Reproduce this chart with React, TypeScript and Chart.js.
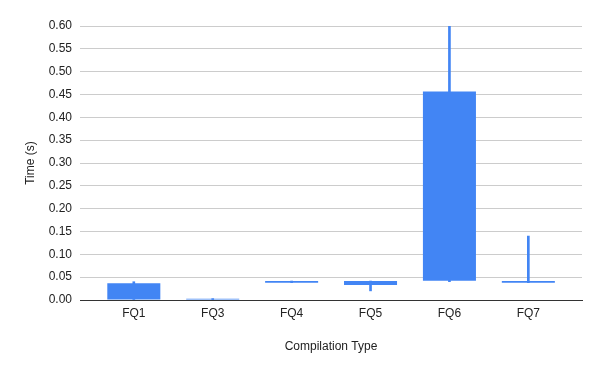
import React, { useEffect, useRef } from "react";
import { Chart, registerables } from "chart.js";

Chart.register(...registerables);

const categories = ["FQ1", "FQ3", "FQ4", "FQ5", "FQ6", "FQ7"];
const lowValues = [0.0, 0.001, 0.038, 0.02, 0.04, 0.038];
const openValues = [0.0, 0.001, 0.038, 0.033, 0.042, 0.038];
const closeValues = [0.0365, 0.003, 0.0415, 0.0415, 0.4566, 0.0415];
const highValues = [0.04, 0.003, 0.0415, 0.0415, 0.6, 0.14];
const yTicks = [0, 0.05, 0.1, 0.15, 0.2, 0.25, 0.3, 0.35, 0.4, 0.45, 0.5, 0.55, 0.6];

const BLUE = "#4285F4";
const FONT = "'Liberation Sans', Arial, sans-serif";

export default function App() {
  const ref = useRef<HTMLCanvasElement | null>(null);

  useEffect(() => {
    document.body.style.margin = "0";
    if (!ref.current) return;
    const chart = new Chart(ref.current, {
      type: "bar",
      data: {
        datasets: [
          {
            label: "wick",
            data: categories.map((_, i) => ({ x: i, y: [lowValues[i], highValues[i]] })),
            backgroundColor: BLUE,
            barThickness: 2,
            grouped: false,
            order: 2,
          } as any,
          {
            label: "box",
            data: categories.map((_, i) => ({ x: i, y: [openValues[i], closeValues[i]] })),
            backgroundColor: BLUE,
            borderWidth: 0,
            categoryPercentage: 1,
            barPercentage: 0.672,
            grouped: false,
            order: 1,
          } as any,
        ],
      },
      options: {
        animation: false,
        responsive: false,
        maintainAspectRatio: false,
        layout: { padding: { top: 26, right: 18, left: 0, bottom: 0 } },
        plugins: { legend: { display: false }, tooltip: { enabled: false } },
        scales: {
          x: {
            type: "linear",
            min: -0.682,
            max: 5.68,
            offset: false,
            afterBuildTicks: (s: any) => {
              s.ticks = categories.map((_, i) => ({ value: i }));
            },
            grid: { display: false, drawTicks: false },
            border: { display: true, color: "#333333", width: 1 },
            ticks: {
              color: "#222222",
              font: { family: FONT, size: 12 },
              padding: 6,
              autoSkip: false,
              maxRotation: 0,
              callback: (v: any) => categories[Math.round(Number(v))] ?? "",
            },
            title: {
              display: true,
              text: "Compilation Type",
              color: "#222222",
              font: { family: FONT, size: 12 },
              padding: { top: 0, bottom: 17 },
            },
            afterFit: (s: any) => {
              s.height = 71;
            },
          },
          y: {
            min: 0,
            max: 0.6,
            afterBuildTicks: (s: any) => {
              s.ticks = yTicks.map((v) => ({ value: v }));
            },
            grid: { color: "#cccccc", drawTicks: false },
            border: { display: false },
            ticks: {
              color: "#222222",
              font: { family: FONT, size: 12 },
              padding: 8,
              callback: (v: any) => Number(v).toFixed(2),
            },
            title: {
              display: true,
              text: "Time (s)",
              color: "#222222",
              font: { family: FONT, size: 12 },
              padding: { top: 23, bottom: 0 },
            },
            afterFit: (s: any) => {
              s.width = 80;
            },
          },
        },
      },
    });
    return () => chart.destroy();
  }, []);

  return (
    <div style={{ width: 600, height: 371, background: "#fff" }}>
      <canvas ref={ref} width={600} height={371} />
    </div>
  );
}
